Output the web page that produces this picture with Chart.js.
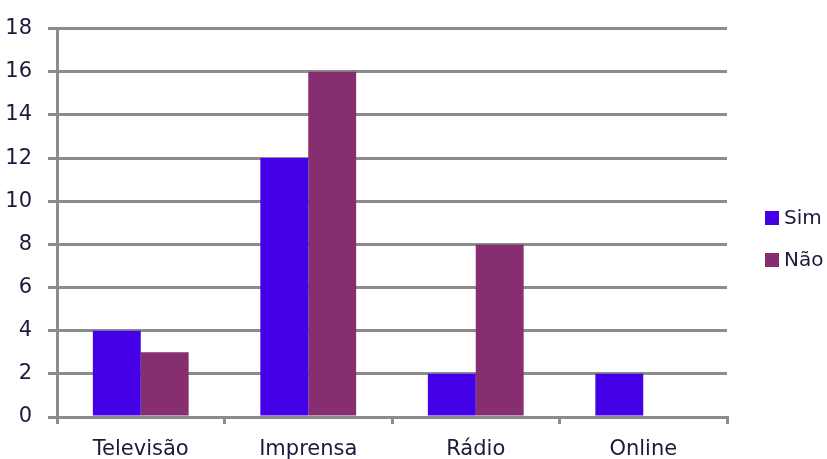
<!DOCTYPE html>
<html lang="pt">
<head>
<meta charset="UTF-8">
<title>Sim / Não por meio</title>
<script src="https://cdn.jsdelivr.net/npm/chart.js"></script>
<style>
  html, body { margin: 0; padding: 0; background: #fff; }
  #chart { display: block; }
</style>
</head>
<body>
<canvas id="chart" width="827" height="459"></canvas>
<script>
const categories = ['Televisão', 'Imprensa', 'Rádio', 'Online'];
const simValues = [4, 12, 2, 2];
const naoValues = [3, 16, 8, 0];
const seriesNames = ['Sim', 'Não'];

const gridColor = '#8c8c8c';
const textColor = '#1c1a3c';
const font = { family: 'DejaVu Sans', size: 21 };

// legend on the right, drawn by hand so the boxes sit where they should
const sideLegend = {
  id: 'sideLegend',
  afterDraw(chart) {
    const ctx = chart.ctx;
    ctx.save();
    ctx.font = '20px "DejaVu Sans"';
    ctx.textBaseline = 'middle';
    chart.data.datasets.forEach((ds, i) => {
      const y = 218 + i * 42;
      ctx.fillStyle = ds.backgroundColor;
      ctx.fillRect(765, y - 7, 14, 14);
      ctx.fillStyle = textColor;
      ctx.fillText(ds.label, 784, y + 1);
    });
    ctx.restore();
  }
};

new Chart(document.getElementById('chart'), {
  type: 'bar',
  data: {
    labels: categories,
    datasets: [
      { label: seriesNames[0], data: simValues, backgroundColor: '#4400e6' },
      { label: seriesNames[1], data: naoValues, backgroundColor: '#862e70' }
    ]
  },
  options: {
    responsive: false,
    animation: false,
    layout: { padding: { top: 27, right: 100, left: 0, bottom: 0 } },
    datasets: { bar: { categoryPercentage: 0.572, barPercentage: 1 } },
    plugins: { legend: { display: false }, tooltip: { enabled: false } },
    scales: {
      y: {
        min: 0, max: 18,
        ticks: { stepSize: 2, color: textColor, font: font, padding: 16 },
        grid: { color: gridColor, lineWidth: 3, tickLength: 9 },
        border: { color: gridColor, width: 3 },
        afterFit(scale) { scale.width = 57; }
      },
      x: {
        ticks: { color: textColor, font: font, padding: 13 },
        grid: { color: gridColor, lineWidth: 3, drawOnChartArea: false, tickLength: 7 },
        border: { color: gridColor, width: 3 },
        afterFit(scale) { scale.height = 42; }
      }
    }
  },
  plugins: [sideLegend]
});
</script>
</body>
</html>
